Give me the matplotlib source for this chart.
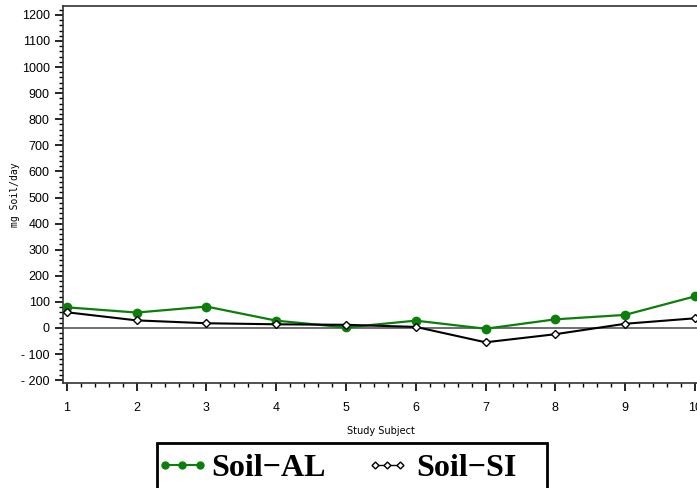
import matplotlib
matplotlib.use('Agg')
import matplotlib.pyplot as plt
from matplotlib.lines import Line2D
from matplotlib.patches import Rectangle
from matplotlib.ticker import MultipleLocator
from matplotlib.legend_handler import HandlerLine2D

# 数据
subjects = [1, 2, 3, 4, 5, 6, 7, 8, 9, 10]
soil_al = [79, 59, 82, 28, 2, 28, -3, 33, 50, 121]
soil_si = [60, 29, 18, 14, 12, 4, -55, -24, 16, 37]
y_ticks = [-200, -100, 0, 100, 200, 300, 400, 500, 600, 700, 800, 900, 1000, 1100, 1200]

W, H = 697, 488
fig = plt.figure(figsize=(W / 100, H / 100), dpi=100)

# 坐标区（右侧超出画布）
left, right, top, bottom = 63, 699, 6, 383
ax = fig.add_axes([left / W, 1 - bottom / H, (right - left) / W, (bottom - top) / H])

ax.axhline(0, color='#555555', linewidth=1.2, zorder=1)
ax.plot(subjects, soil_al, color='#0a800a', linewidth=1.6, marker='o',
        markersize=6, markerfacecolor='#0a800a', markeredgecolor='#0a800a', zorder=3)
ax.plot(subjects, soil_si, color='black', linewidth=1.5, marker='D',
        markersize=4, markerfacecolor='white', markeredgecolor='black', zorder=4)

ax.set_xlim(0.943, 10.06)
ax.set_ylim(-211, 1234)
ax.set_xticks(subjects)
ax.set_yticks(y_ticks)
ax.set_yticklabels([str(v).replace('-', '- ') for v in y_ticks])
ax.xaxis.set_minor_locator(MultipleLocator(0.2))
ax.yaxis.set_minor_locator(MultipleLocator(20))
ax.tick_params(axis='both', which='major', direction='out', length=6, width=1.2,
               labelsize=9)
ax.tick_params(axis='both', which='minor', direction='out', length=3, width=1)
ax.tick_params(axis='x', pad=8)
for lbl in ax.get_xticklabels() + ax.get_yticklabels():
    lbl.set_family('Liberation Sans')
for s in ax.spines.values():
    s.set_linewidth(1.2)
    s.set_color('#333333')

ax.set_xlabel('Study Subject', fontsize=7, labelpad=8)
ax.set_ylabel('mg Soil/day', fontsize=7, family='DejaVu Sans Mono')
ax.yaxis.set_label_coords(-0.068, 0.5)

# 图例框
fig.patches.append(Rectangle((157 / W, -0.05), (547 - 157) / W, (1 - 443 / H) + 0.05,
                             transform=fig.transFigure, fill=False,
                             edgecolor='black', linewidth=2))
h_al = Line2D([0], [0], color='#0a800a', linewidth=1.5, marker='o', markersize=5,
              markerfacecolor='#0a800a', markeredgecolor='#0a800a')
h_si = Line2D([0], [0], color='black', linewidth=1, marker='D', markersize=3.5,
              markerfacecolor='white', markeredgecolor='black')
fig.legend([h_al, h_si], ['Soil\u2212AL', 'Soil\u2212SI'], loc='center left',
           bbox_to_anchor=(149 / W, 1 - 468 / H), ncol=2, frameon=False,
           numpoints=3, handlelength=1.69, handletextpad=0.07, columnspacing=1.07,
           borderaxespad=0, borderpad=0.2,
           handler_map={h_si: HandlerLine2D(marker_pad=0.45)},
           prop={'family': 'Liberation Serif', 'weight': 'bold', 'size': 23})

plt.savefig('out.png', dpi=100)
